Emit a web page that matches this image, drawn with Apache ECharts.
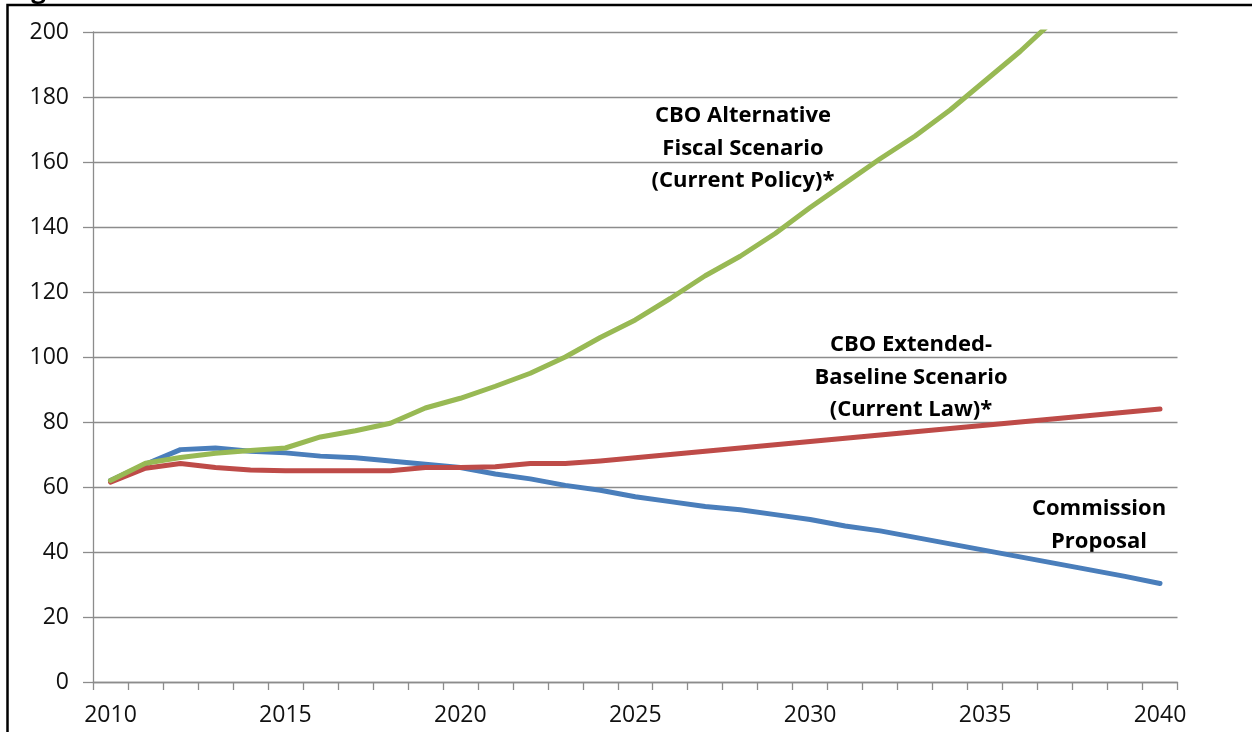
<!DOCTYPE html>
<html>
<head>
<meta charset="utf-8">
<script src="https://cdn.jsdelivr.net/npm/echarts@6/dist/echarts.min.js"></script>
<style>
  html, body { margin: 0; padding: 0; background: #fff; }
  #chart { width: 1252px; height: 732px; }
</style>
</head>
<body>
<div id="chart"></div>
<script>
// years on the x axis
const years = ['2010', '2011', '2012', '2013', '2014', '2015', '2016', '2017', '2018', '2019', '2020',
  '2021', '2022', '2023', '2024', '2025', '2026', '2027', '2028', '2029', '2030',
  '2031', '2032', '2033', '2034', '2035', '2036', '2037', '2038', '2039', '2040'];

// debt as % of GDP
const commission = [62, 67, 71.5, 72, 71, 70.5, 69.5, 69, 68, 67, 66,
  64, 62.5, 60.5, 59, 57, 55.5, 54, 53, 51.5, 50,
  48, 46.5, 44.5, 42.5, 40.5, 38.5, 36.5, 34.5, 32.5, 30.3];

const extendedBaseline = [61.5, 65.8, 67.2, 66, 65.2, 65, 65, 65, 65, 66, 66,
  66.2, 67.2, 67.2, 68, 69, 70, 71, 72, 73, 74,
  75, 76, 77, 78, 79, 80, 81, 82, 83, 84];

const alternativeFiscal = [62, 67.3, 69.1, 70.4, 71.2, 72, 75.4, 77.3, 79.6, 84.3, 87.3,
  91, 95, 100, 106, 111.4, 118, 125, 131, 138, 146,
  153.5, 161, 168, 176, 185, 194, 204];

const yTicks = { min: 0, max: 200, step: 20 };

const chart = echarts.init(document.getElementById('chart'));

const font = '"Open Sans", "Noto Sans", sans-serif';
const gridColor = '#8c8c8c';

function note(lines, x, y) {
  return lines.map((t, i) => ({
    type: 'text',
    x: x,
    y: y + i * 32.5,
    style: {
      text: t,
      fill: '#000',
      font: 'bold 22px ' + font,
      align: 'center',
      verticalAlign: 'middle'
    }
  }));
}

const option = {
  animation: false,
  backgroundColor: '#fff',
  grid: { left: 93, right: 74.5, top: 32, bottom: 50 },
  xAxis: {
    type: 'category',
    data: years,
    boundaryGap: true,
    axisLine: { lineStyle: { color: gridColor, width: 1.3 } },
    axisTick: { show: true, interval: 0, length: 8, lineStyle: { color: gridColor, width: 1.3 } },
    axisLabel: { interval: 4, color: '#111', fontFamily: font, fontSize: 23, margin: 22 },
    splitLine: { show: false }
  },
  yAxis: {
    type: 'value',
    min: yTicks.min,
    max: yTicks.max,
    interval: yTicks.step,
    axisLine: { show: true, lineStyle: { color: gridColor, width: 1.3 } },
    axisTick: { show: true, length: 10, lineStyle: { color: gridColor, width: 1.3 } },
    axisLabel: { color: '#111', fontFamily: font, fontSize: 23, margin: 24 },
    splitLine: { show: true, lineStyle: { color: gridColor, width: 1.3 } }
  },
  series: [
    {
      name: 'Commission Proposal',
      type: 'line',
      data: commission,
      symbol: 'none',
      lineStyle: { color: '#4a7ebb', width: 5, cap: 'round', join: 'round' }
    },
    {
      name: 'CBO Extended-Baseline Scenario (Current Law)*',
      type: 'line',
      data: extendedBaseline,
      symbol: 'none',
      lineStyle: { color: '#be4b48', width: 5, cap: 'round', join: 'round' }
    },
    {
      name: 'CBO Alternative Fiscal Scenario (Current Policy)*',
      type: 'line',
      data: alternativeFiscal,
      symbol: 'none',
      clip: true,
      lineStyle: { color: '#98b954', width: 5, cap: 'round', join: 'round' }
    }
  ],
  graphic: [
    // figure title, mostly cut off above the picture
    { type: 'text', x: 9, y: -22,
      style: { text: 'Figure', fill: '#000', font: 'bold 26px ' + font } },
    // frame of the surrounding figure box
    { type: 'rect', shape: { x: 7.5, y: 5, width: 1260, height: 760 },
      style: { fill: 'none', stroke: '#000', lineWidth: 2.5 } },
    ...note(['CBO Alternative', 'Fiscal Scenario', '(Current Policy)*'], 743, 116),
    ...note(['CBO Extended-', 'Baseline Scenario', '(Current Law)*'], 911, 345),
    ...note(['Commission', 'Proposal'], 1099, 509)
  ]
};

chart.setOption(option);
</script>
</body>
</html>
